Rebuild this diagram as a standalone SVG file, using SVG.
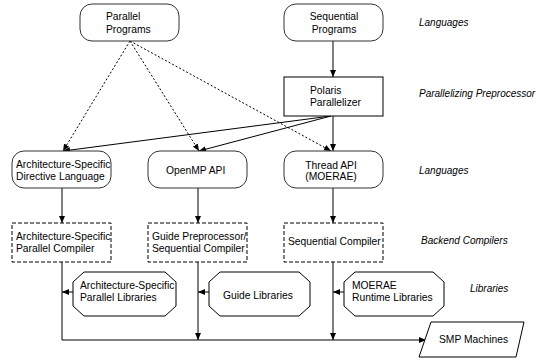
<svg xmlns="http://www.w3.org/2000/svg" width="537" height="360" viewBox="0 0 537 360">
<defs>
<marker id="ah" markerUnits="userSpaceOnUse" markerWidth="7" markerHeight="6" refX="7" refY="3" orient="auto">
<path d="M0,0 L7,3 L0,6 z" fill="#000"/>
</marker>
<style>
text{font-family:"Liberation Sans",Arial,sans-serif;font-size:10.3px;fill:#000}
.lbl{font-style:italic;font-size:10px}
.rnd{fill:#fff;stroke:#333;stroke-width:1}
.box{fill:#fff;stroke:#000;stroke-width:1}
.dsh{fill:#fff;stroke:#000;stroke-width:1;stroke-dasharray:4,2}
.oct{fill:#fff;stroke:#000;stroke-width:1}
.ln{fill:none;stroke:#000;stroke-width:1}
.arr{fill:none;stroke:#000;stroke-width:1;marker-end:url(#ah)}
.dot{fill:none;stroke:#000;stroke-width:1;stroke-dasharray:2,2;marker-end:url(#ah)}
</style>
</defs>

<g id="connectors">
<path class="arr" d="M333,41 L333,77"/>
<path class="arr" d="M333,116 L333,151"/>
<path class="arr" d="M331,116 L63,151"/>
<path class="arr" d="M331,116 L199,151"/>
<path class="dot" d="M130,41 L63,151"/>
<path class="dot" d="M130,41 L199,151"/>
<path class="dot" d="M130,41 L331,151"/>
<path class="arr" d="M62,188 L62,223"/>
<path class="arr" d="M198,188 L198,223"/>
<path class="arr" d="M333,188 L333,223"/>
<path class="ln" d="M62,262 L62,340"/>
<path class="arr" d="M198,262 L198,340"/>
<path class="arr" d="M333,262 L333,340"/>
<path class="arr" d="M62,340 L426,340"/>
<path class="arr" d="M73,292 L62,292"/>
<path class="arr" d="M209,292 L198,292"/>
<path class="arr" d="M344,292 L333,292"/>
</g>

<g id="parallel-programs">
<rect class="rnd" x="80" y="4" width="99" height="37" rx="12"/>
<text x="106" y="20">Parallel</text>
<text x="106" y="33">Programs</text>
</g>
<g id="sequential-programs">
<rect class="rnd" x="284" y="4" width="99" height="37" rx="12"/>
<text x="334" y="20" text-anchor="middle">Sequential</text>
<text x="334" y="33" text-anchor="middle">Programs</text>
</g>
<g id="polaris">
<rect class="box" x="284" y="77" width="99" height="39"/>
<text x="310" y="94">Polaris</text>
<text x="310" y="106">Parallelizer</text>
</g>

<g id="arch-directive">
<rect class="rnd" x="12" y="151" width="99" height="37" rx="12"/>
<text x="16" y="168">Architecture-Specific</text>
<text x="16" y="180">Directive Language</text>
</g>
<g id="openmp">
<rect class="rnd" x="148" y="151" width="99" height="37" rx="12"/>
<text x="166" y="174">OpenMP API</text>
</g>
<g id="thread-api">
<rect class="rnd" x="284" y="151" width="99" height="37" rx="12"/>
<text x="331" y="169" text-anchor="middle">Thread API</text>
<text x="331" y="180" text-anchor="middle">(MOERAE)</text>
</g>

<g id="arch-compiler">
<rect class="dsh" x="12" y="223" width="99" height="39"/>
<text x="16" y="240">Architecture-Specific</text>
<text x="16" y="252">Parallel Compiler</text>
</g>
<g id="guide-compiler">
<rect class="dsh" x="148" y="223" width="99" height="39"/>
<text x="152" y="240">Guide Preprocessor/</text>
<text x="152" y="252">Sequential Compiler</text>
</g>
<g id="seq-compiler">
<rect class="dsh" x="284" y="223" width="99" height="39"/>
<text x="288" y="245">Sequential Compiler</text>
</g>

<g id="arch-libraries">
<polygon class="oct" points="84,272 165,272 176,282 176,306 165,316 84,316 73,306 73,282"/>
<text x="80" y="289">Architecture-Specific</text>
<text x="80" y="301">Parallel Libraries</text>
</g>
<g id="guide-libraries">
<polygon class="oct" points="220,272 299,272 310,282 310,306 299,316 220,316 209,306 209,282"/>
<text x="223" y="299">Guide Libraries</text>
</g>
<g id="moerae-libraries">
<polygon class="oct" points="355,272 433,272 444,282 444,306 433,316 355,316 344,306 344,282"/>
<text x="352" y="289">MOERAE</text>
<text x="352" y="301">Runtime Libraries</text>
</g>

<g id="smp">
<polygon class="box" points="431,322 524,322 516,357 419,357"/>
<text x="439" y="343">SMP Machines</text>
</g>

<g id="labels">
<text class="lbl" x="419" y="26">Languages</text>
<text class="lbl" x="419" y="97">Parallelizing Preprocessor</text>
<text class="lbl" x="419" y="174">Languages</text>
<text class="lbl" x="421" y="244">Backend Compilers</text>
<text class="lbl" x="470" y="292">Libraries</text>
</g>
</svg>
